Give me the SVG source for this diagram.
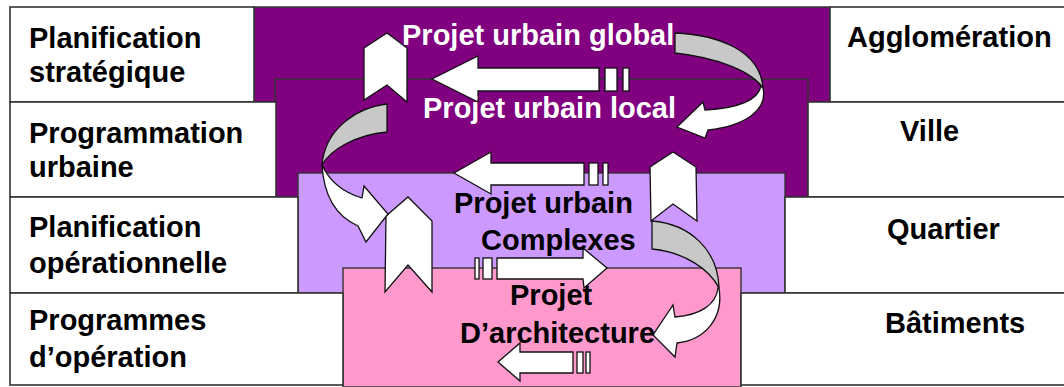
<svg xmlns="http://www.w3.org/2000/svg" width="1064" height="387" viewBox="0 0 1064 387">
<style>
.box{fill:#fff;stroke:#333;stroke-width:1.6}
.lvl{stroke:#333;stroke-width:1.4}
.t{font-family:"Liberation Sans",Arial,sans-serif;font-weight:bold;font-size:29px;fill:#000}
.w{fill:#fff}
.sh{fill:#fff;stroke:#111;stroke-width:1.3;stroke-linejoin:miter}
.gr{fill:#c8c8c8;stroke:#111;stroke-width:1.3}
</style>
<rect width="1064" height="387" fill="#fff"/>
<g id="levels">
<rect id="global" class="lvl" x="254" y="7" width="576" height="95" fill="#800080"/>
<rect id="local" class="lvl" x="275" y="79" width="533" height="118" fill="#800080"/>
<rect id="complexes" class="lvl" x="298" y="173" width="487" height="120" fill="#cc99ff"/>
<rect id="architecture" class="lvl" x="343" y="268" width="398" height="119" fill="#ff99cc"/>
</g>
<g id="left-labels">
<g id="planif-strat"><rect class="box" x="10" y="7" width="244" height="95"/><text class="t" x="29" y="48">Planification</text><text class="t" x="29" y="82">stratégique</text></g>
<g id="prog-urb"><rect class="box" x="10" y="102" width="266" height="95"/><text class="t" x="29" y="143">Programmation</text><text class="t" x="29" y="177">urbaine</text></g>
<g id="planif-op"><rect class="box" x="10" y="197" width="288" height="96"/><text class="t" x="29" y="237">Planification</text><text class="t" x="29" y="273">opérationnelle</text></g>
<g id="prog-op"><rect class="box" x="10" y="293" width="333" height="92"/><text class="t" x="29" y="330">Programmes</text><text class="t" x="29" y="367">d’opération</text></g>
</g>
<g id="right-labels">
<g id="agglo"><rect class="box" x="830" y="7" width="250" height="95"/><text class="t" x="847" y="47">Agglomération</text></g>
<g id="ville"><rect class="box" x="808" y="102" width="270" height="95"/><text class="t" x="900" y="141">Ville</text></g>
<g id="quartier"><rect class="box" x="785" y="197" width="290" height="96"/><text class="t" x="887" y="239">Quartier</text></g>
<g id="batiments"><rect class="box" x="741" y="293" width="340" height="92"/><text class="t" x="885" y="333">Bâtiments</text></g>
</g>
<g id="label-global"><text class="t w" x="402" y="45">Projet urbain global</text></g>
<g id="connectors">
<path class="sh" d="M364,48 L387,33 L407,48 L407,102 L387,85 L364,100 Z"/>
<path class="sh" d="M650,167 L673,152 L696,167 L697,221 L673,204 L651,221 Z"/>
<path class="sh" d="M386,216 L408,197 L432,221 L432,292 L408,265 L385,292 Z"/>
<path class="sh" d="M432,79 L478,56 L478,68 L599,68 L599,91 L478,91 L478,102 Z"/>
<rect class="sh" x="605" y="68" width="12" height="23"/>
<rect class="sh" x="623" y="68" width="6" height="23"/>
<path class="sh" d="M454,173 L491,152 L491,163 L584,163 L584,185 L491,185 L491,194 Z"/>
<rect class="sh" x="589" y="163" width="9" height="22"/>
<rect class="sh" x="603" y="163" width="5" height="22"/>
<path class="sh" d="M607,268 L583,248 L583,258 L497,258 L497,279 L583,279 L584,288 Z"/>
<rect class="sh" x="483" y="258" width="9" height="21"/>
<rect class="sh" x="475" y="258" width="4" height="21"/>
<path class="sh" d="M498,362 L520,343 L520,352 L573,352 L573,373 L520,373 L520,381 Z"/>
<rect class="sh" x="577" y="352" width="6" height="21"/>
<rect class="sh" x="586" y="352" width="4" height="21"/>
<path class="gr" d="M675,33 C718,35 760,50 763,88 C752,72 720,58 675,53 Z"/>
<path class="sh" d="M761,86 C758,100 740,108 705,110 L703,102 L677,127 L705,138 L708,130 C745,126 768,110 763,88 Z"/>
<path class="gr" d="M387,104 C355,108 325,130 322,165 C330,150 355,135 387,132 Z"/>
<path class="sh" d="M322,165 C324,200 340,218 358,226 L366,242 L388,214 L364,186 L362,198 C345,193 330,182 322,165 Z"/>
<path class="gr" d="M652,221 C690,224 718,250 719,288 C710,270 685,252 652,249 Z"/>
<path class="sh" d="M718,288 C716,305 700,315 675,317 L673,305 L653,335 L675,357 L677,343 C705,340 724,318 719,288 Z"/>
</g>
<g id="labels-center">
<text class="t w" x="423" y="118">Projet urbain local</text>
<text class="t" x="454" y="213">Projet urbain</text>
<text class="t" x="481" y="250">Complexes</text>
<text class="t" x="510" y="305">Projet</text>
<text class="t" x="460" y="343">D’architecture</text>
</g>
</svg>
